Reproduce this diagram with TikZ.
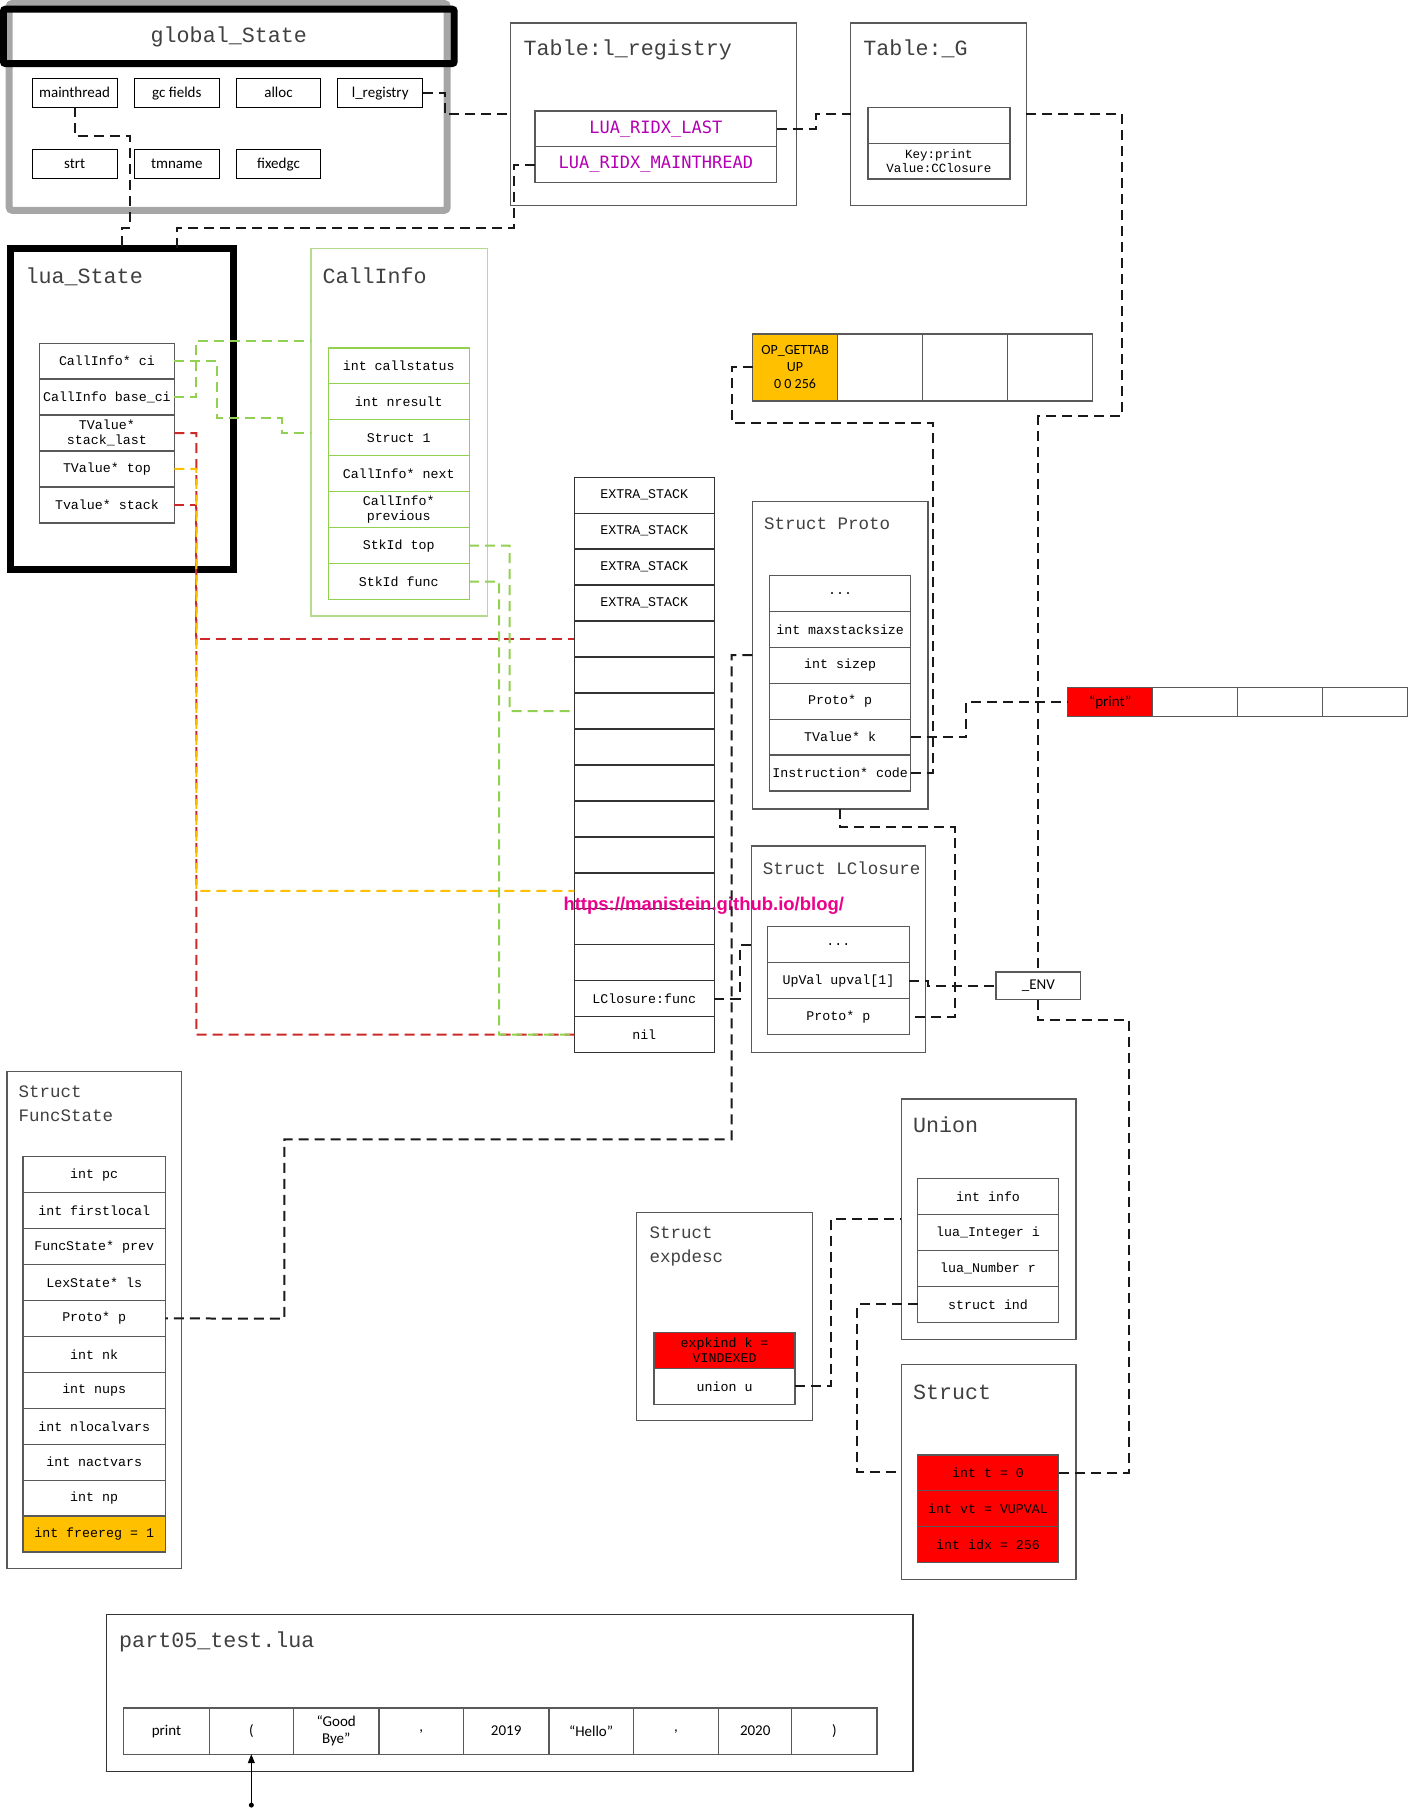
\documentclass[tikz,border=0pt]{standalone}
\usepackage{fontspec}
\setmainfont{Liberation Mono}
\newfontfamily\calfont{Carlito}
\newfontfamily\consfont{DejaVu Sans Mono}
\newfontfamily\wmfont{Liberation Sans}
\usetikzlibrary{positioning,arrows.meta}

\definecolor{boxgray}{HTML}{595959}
\definecolor{gsgray}{HTML}{A6A6A6}
\definecolor{titlegray}{HTML}{404040}
\definecolor{cigreen}{HTML}{92D050}
\definecolor{cilight}{HTML}{B4DC8C}
\definecolor{toporange}{HTML}{FFC000}
\definecolor{stkred}{HTML}{CC2929}
\definecolor{ridxpurple}{HTML}{B400B4}
\definecolor{cellred}{HTML}{FF0000}

\tikzset{
  wd/.style={minimum width=#1*1.1559pt},
  ht/.style={minimum height=#1*1.1559pt},
  fieldfont/.style={font=\fontsize{13.3}{15.5}\selectfont},
  titlefont/.style={font=\fontsize{21.7}{24}\selectfont},
  subtitlefont/.style={font=\fontsize{17.5}{24}\selectfont},
  sansfont/.style={font=\calfont\fontsize{15}{17}\selectfont},
  fld/.style={draw=boxgray, line width=1.3pt, inner sep=0pt, outer sep=0pt,
    align=center, fieldfont, wd=123, ht=31.1},
  cifld/.style={fld, draw=cigreen, wd=122},
  stkcell/.style={fld, draw=black!80, wd=121},
  grp/.style={draw=boxgray, line width=1.3pt, inner sep=0pt, outer sep=0pt},
  gsfld/.style={draw=black, line width=1pt, inner sep=0pt, outer sep=0pt,
    sansfont, wd=73.5, ht=25, text height=2ex, text depth=0.35ex},
  ttl/.style={anchor=base west, inner sep=0pt, text=titlegray},
  conn/.style={line width=2pt, dash pattern=on 10pt off 6pt, black!90},
}

\begin{document}
\begin{tikzpicture}[x=1.1559pt, y=-1.1559pt]
\useasboundingbox (0,0) rectangle (1219,1568);

% global_State
\node[grp, draw=gsgray, line width=7pt, rounded corners=3pt, wd=379, ht=179] (gs) at (197.5,92.5) {};
\node[grp, draw=black, line width=7pt, rounded corners=2pt, wd=390, ht=47, titlefont, text=titlegray] (gsName) at (198,31.5) {global\_State};
\node[gsfld] (mthr) at (64.5,80.5) {mainthread};
\node[gsfld] (gcf) at (153,80.5) {gc fields};
\node[gsfld] (alloc) at (241,80.5) {alloc};
\node[gsfld] (lreg) at (329,80.5) {l\_registry};
\node[gsfld] (strt) at (64.5,142) {strt};
\node[gsfld] (tmn) at (153,142) {tmname};
\node[gsfld] (fxgc) at (241,142) {fixedgc};

% registry and _G
\node[grp, wd=247, ht=158] (tblReg) at (565.5,99) {};
\node[ttl, titlefont] (tblRegName) at (453,48) {Table:l\_registry};
\node[fld, wd=209, ht=31, text=ridxpurple, font=\consfont\fontsize{17}{20}\selectfont] (ridxLast) at (567.5,111.5) {LUA\_RIDX\_LAST};
\node[fld, wd=209, ht=31, text=ridxpurple, font=\consfont\fontsize{17}{20}\selectfont, below=0pt of ridxLast] (ridxMain) {LUA\_RIDX\_MAINTHREAD};

\node[grp, wd=152, ht=158] (tblG) at (812,99) {};
\node[ttl, titlefont] (tblGName) at (747,48) {Table:\_G};
\node[fld, ht=31] (gSlot) at (812.5,108.5) {};
\node[fld, ht=31, font=\fontsize{12.5}{14}\selectfont, below=0pt of gSlot] (gPrint) {Key:print\\Value:CClosure};

% lua_State
\node[grp, draw=black, line width=7pt, wd=193, ht=278] (luaS) at (105.5,354) {};
\node[ttl, titlefont] (luaSName) at (22,245) {lua\_State};
\node[fld, wd=117] (ci) at (92.5,312.5) {CallInfo* ci};
\node[fld, wd=117, below=0pt of ci] (baseci) {CallInfo base\_ci};
\node[fld, wd=117, below=0pt of baseci] (slast) {TValue*\\stack\_last};
\node[fld, wd=117, below=0pt of slast] (luaTop) {TValue* top};
\node[fld, wd=117, below=0pt of luaTop] (stk) {Tvalue* stack};

% CallInfo
\node[grp, draw=cilight, wd=153, ht=318] (callinfo) at (345.5,374) {};
\node[ttl, titlefont] (callinfoName) at (279,245) {CallInfo};
\node[cifld] (cStat) at (345,316.6) {int callstatus};
\node[cifld, below=0pt of cStat] (cRes) {int nresult};
\node[cifld, below=0pt of cRes] (cStruct) {Struct 1};
\node[cifld, below=0pt of cStruct] (cNext) {CallInfo* next};
\node[cifld, below=0pt of cNext] (cPrev) {CallInfo*\\previous};
\node[cifld, below=0pt of cPrev] (cTop) {StkId top};
\node[cifld, below=0pt of cTop] (cFunc) {StkId func};

% the stack
\foreach \lbl [count=\i] in {EXTRA\_STACK,EXTRA\_STACK,EXTRA\_STACK,EXTRA\_STACK,{},{},{},{},{},{},{},{},{},{},{LClosure:func},nil}
  \node[stkcell] (s\i) at (557.5,{428.5+31.125*(\i-1)}) {\lbl};

% instructions
\node[fld, wd=73.5, ht=58, fill=toporange, font=\calfont\fontsize{14}{17}\selectfont] (op1) at (688,318) {OP\_GETTAB\\UP\\0 0 256};
\node[fld, wd=73.5, ht=58, right=0pt of op1] (op2) {};
\node[fld, wd=73.5, ht=58, right=0pt of op2] (op3) {};
\node[fld, wd=73.5, ht=58, right=0pt of op3] (op4) {};

% Proto
\node[grp, wd=152, ht=266] (proto) at (727,567) {};
\node[ttl, subtitlefont] (protoName) at (661,458) {Struct Proto};
\node[fld, wd=122] (pDots) at (727,513.5) {...};
\node[fld, wd=122, below=0pt of pDots] (pMax) {int maxstacksize};
\node[fld, wd=122, below=0pt of pMax] (pSize) {int sizep};
\node[fld, wd=122, below=0pt of pSize] (pP) {Proto* p};
\node[fld, wd=122, below=0pt of pP] (pK) {TValue* k};
\node[fld, wd=122, below=0pt of pK] (pCode) {Instruction* code};

% constants
\node[fld, wd=73.5, ht=25, fill=cellred, sansfont] (pr1) at (960.75,607.5) {“print”};
\node[fld, wd=73.5, ht=25, right=0pt of pr1] (pr2) {};
\node[fld, wd=73.5, ht=25, right=0pt of pr2] (pr3) {};
\node[fld, wd=73.5, ht=25, right=0pt of pr3] (pr4) {};

% LClosure
\node[grp, wd=151, ht=179] (lcl) at (725.5,821.5) {};
\node[ttl, subtitlefont] (lclName) at (660,757) {Struct LClosure};
\node[fld] (lDots) at (725.5,817.5) {...};
\node[fld, below=0pt of lDots] (lUpv) {UpVal upval[1]};
\node[fld, below=0pt of lUpv] (lP) {Proto* p};

\node[fld, wd=73, ht=24, sansfont] (envB) at (898.5,853) {\_ENV};

\node[text=magenta, font=\wmfont\bfseries\fontsize{18.5}{20}\selectfont, inner sep=0pt] (wmark) at (609,784) {https://manistein.github.io/blog/};

% FuncState
\node[grp, wd=151, ht=430] (fs) at (81.5,1142) {};
\node[ttl, subtitlefont, anchor=north west, align=left] (fsName) at (16,939) {Struct\\FuncState};
\node[fld] (fsPc) at (81.5,1016.5) {int pc};
\node[fld, below=0pt of fsPc] (fsFirst) {int firstlocal};
\node[fld, below=0pt of fsFirst] (fsPrev) {FuncState* prev};
\node[fld, below=0pt of fsPrev] (fsLs) {LexState* ls};
\node[fld, below=0pt of fsLs] (fsP) {Proto* p};
\node[fld, below=0pt of fsP] (fsNk) {int nk};
\node[fld, below=0pt of fsNk] (fsNups) {int nups};
\node[fld, below=0pt of fsNups] (fsNloc) {int nlocalvars};
\node[fld, below=0pt of fsNloc] (fsNact) {int nactvars};
\node[fld, below=0pt of fsNact] (fsNp) {int np};
\node[fld, fill=toporange, below=0pt of fsNp] (fsFree) {int freereg = 1};

% expdesc
\node[grp, wd=152, ht=180] (expd) at (627,1139) {};
\node[ttl, subtitlefont, anchor=north west, align=left] (expdName) at (562,1061) {Struct\\expdesc};
\node[fld, wd=122, fill=cellred] (eKind) at (627,1168.5) {expkind k =\\VINDEXED};
\node[fld, wd=122, below=0pt of eKind] (eU) {union u};

% Union
\node[grp, wd=151, ht=208] (unionB) at (855.5,1055) {};
\node[ttl, titlefont] (unionName) at (790,980) {Union};
\node[fld, wd=122] (uInfo) at (855,1035.5) {int info};
\node[fld, wd=122, below=0pt of uInfo] (uInt) {lua\_Integer i};
\node[fld, wd=122, below=0pt of uInt] (uNum) {lua\_Number r};
\node[fld, wd=122, below=0pt of uNum] (uInd) {struct ind};

% Struct ind
\node[grp, wd=151, ht=186] (structB) at (855.5,1274) {};
\node[ttl, titlefont] (structName) at (790,1211) {Struct};
\node[fld, wd=122, fill=cellred] (tT) at (855,1274.5) {int t = 0};
\node[fld, wd=122, fill=cellred, below=0pt of tT] (tVt) {int vt = VUPVAL};
\node[fld, wd=122, fill=cellred, below=0pt of tVt] (tIdx) {int idx = 256};

% source file
\node[grp, draw=black!80, wd=698, ht=136] (luaFile) at (441,1465) {};
\node[ttl, titlefont] (luaFileName) at (103,1426) {part05\_test.lua};
\node[fld, sansfont, wd=74, ht=40] (tok1) at (144,1498) {print};
\node[fld, sansfont, wd=73, ht=40, right=0pt of tok1] (tok2) {(};
\node[fld, sansfont, wd=74, ht=40, right=0pt of tok2] (tok3) {“Good\\Bye”};
\node[fld, sansfont, wd=73, ht=40, right=0pt of tok3] (tok4) {,};
\node[fld, sansfont, wd=74, ht=40, right=0pt of tok4] (tok5) {2019};
\node[fld, sansfont, wd=73, ht=40, right=0pt of tok5] (tok6) {“Hello”};
\node[fld, sansfont, wd=74, ht=40, right=0pt of tok6] (tok7) {,};
\node[fld, sansfont, wd=63, ht=40, right=0pt of tok7] (tok8) {2020};
\node[fld, sansfont, wd=74, ht=40, right=0pt of tok8] (tok9) {)};
\coordinate (ptr) at (217.5,1562);
\fill (ptr) circle (2.5pt);
\draw[line width=1pt, -{Triangle[length=9pt,width=7pt]}] (ptr) -- (tok2.south);

% links
\draw[conn] (mthr.south) |- (112.5,118) |- (105.5,197) -- (105.5,0 |- luaS.north);
\draw[conn] (ridxMain.west) -- ++(-18,0) |- (153,197) -- (153,0 |- luaS.north);
\draw[conn] (lreg.east) -- ++(19,0) |- (tblReg.west);
\draw[conn] (ridxLast.east) -| (706,99) -- (tblG.west);
\draw[conn] (tblG.east) -| (971,360) -| (envB.north);
\draw[conn] (envB.south) |- (977,883) |- (tT.east);

\draw[conn, stkred] (slast.east) -| (170,895.4) -- (s16.west);
\draw[conn, stkred] (stk.east) -| (170,553) -- (s5.west);
\draw[conn, toporange] (luaTop.east) -| (170,770.9) -- (s12.west);
\draw[conn, cigreen] (ci.east) -| (188,362) -| (244,375) -- (callinfo.west |- 0,375);
\draw[conn, cigreen] (baseci.east) -| (170,295) -- (callinfo.west |- 0,295);
\draw[conn, cigreen] (cTop.east) -| (441,615.3) -- (s7.west);
\draw[conn, cigreen] (cFunc.east) -| (432,895.4) -- (s16.west);

\draw[conn] (pCode.east) -| (807,366) -| (633,318) -- (op1.west);
\draw[conn] (pK.east) -| (836,607.5) -- (pr1.west);
\draw[conn] (proto.west) -| (633,986) -| (246,1141) -- (fsP.east);
\draw[conn] (proto.south) |- (826,716) |- (lP.east);
\draw[conn] (lUpv.east) -| (803,853) -- (envB.west);
\draw[conn] (s15.east) -| (640,818) -- (lcl.west |- 0,818);
\draw[conn] (eU.east) -| (719,1055) -- (unionB.west);
\draw[conn] (uInd.west) -| (742,1274) -- (structB.west);
\end{tikzpicture}
\end{document}
